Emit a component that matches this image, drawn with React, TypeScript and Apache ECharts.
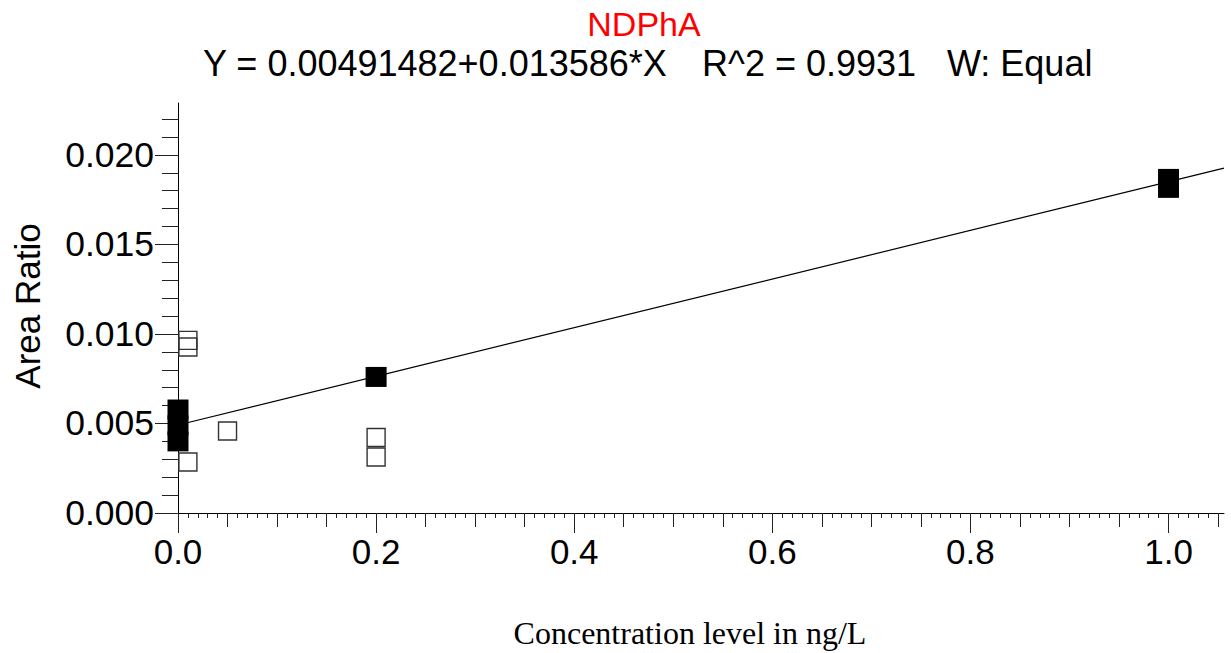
import React, { useEffect, useRef } from "react";
import * as echarts from "echarts";

// ---- data ----
const xTickLabels = [0, 0.2, 0.4, 0.6, 0.8, 1.0];
const xMidTicks = [0.05, 0.1, 0.15, 0.25, 0.3, 0.35, 0.45, 0.5, 0.55, 0.65, 0.7, 0.75, 0.85, 0.9, 0.95, 1.05];
const yTickLabels = [0, 0.005, 0.01, 0.015, 0.02];

// used calibration points (filled squares)
const usedX = [0, 0, 0, 0.2, 1.0, 1.0];
const usedY = [0.00578, 0.0049, 0.004, 0.0076, 0.01866, 0.01816];

// excluded points (open squares)
const excludedX = [0.01, 0.01, 0.01, 0.05, 0.2, 0.2];
const excludedY = [0.00964, 0.00927, 0.00285, 0.00458, 0.00422, 0.00313];

// regression line endpoints (Y = 0.00491482 + 0.013586*X)
const fitX = [0, 1.056];
const fitY = [0.00491482, 0.01926164];

const titleText = "NDPhA";
const eqText = "Y = 0.00491482+0.013586*X";
const r2Text = "R^2 = 0.9931";
const weightText = "W: Equal";
const xName = "Concentration level in ng/L";
const yName = "Area Ratio";

const SANS = '"Liberation Sans", Arial, sans-serif';
const SERIF = '"Liberation Serif", "Times New Roman", serif';

export default function App() {
  const ref = useRef<HTMLDivElement>(null);
  useEffect(() => {
    if (!ref.current) return;
    const chart = echarts.init(ref.current, undefined, { renderer: "svg" });
    const tickStyle = { color: "#222", width: 1 };
    const option: any = {
      animation: false,
      backgroundColor: "#fff",
      grid: { left: 178, top: 103, width: 1046, height: 410, containLabel: false },
      xAxis: [
        {
          type: "value",
          min: 0,
          max: 1.056,
          interval: 0.2,
          position: "bottom",
          axisLine: { show: true, lineStyle: { color: "#000", width: 1 } },
          axisTick: { show: true, customValues: xTickLabels, length: 20, lineStyle: tickStyle },
          minorTick: { show: true, splitNumber: 20, length: 5, lineStyle: tickStyle },
          axisLabel: {
            customValues: xTickLabels,
            formatter: (v: number) => v.toFixed(1),
            fontSize: 35,
            fontFamily: SANS,
            color: "#000",
            margin: 21,
          },
          splitLine: { show: false },
        },
        {
          type: "value",
          min: 0,
          max: 1.056,
          interval: 0.05,
          position: "bottom",
          axisLine: { show: false },
          axisTick: { show: true, customValues: xMidTicks, length: 14, lineStyle: tickStyle },
          axisLabel: { show: false },
          splitLine: { show: false },
        },
      ],
      yAxis: {
        type: "value",
        min: 0,
        max: 0.0229,
        interval: 0.005,
        axisLine: { show: true, lineStyle: { color: "#000", width: 1 } },
        axisTick: { show: true, customValues: yTickLabels, length: 23, lineStyle: tickStyle },
        minorTick: { show: true, splitNumber: 5, length: 16, lineStyle: tickStyle },
        axisLabel: {
          customValues: yTickLabels,
          formatter: (v: number) => v.toFixed(3),
          fontSize: 35.5,
          fontFamily: SANS,
          color: "#000",
          margin: 24,
        },
        splitLine: { show: false },
      },
      series: [
        {
          type: "line",
          data: fitX.map((x, i) => [x, fitY[i]]),
          symbol: "none",
          silent: true,
          lineStyle: { color: "#000", width: 1.2 },
          z: 1,
        },
        {
          type: "scatter",
          data: usedX.map((x, i) => [x, usedY[i]]),
          symbol: "rect",
          symbolSize: [21, 20],
          clip: false,
          silent: true,
          itemStyle: { color: "#000", opacity: 1 },
          z: 2,
        },
        {
          type: "scatter",
          data: excludedX.map((x, i) => [x, excludedY[i]]),
          symbol: "rect",
          symbolSize: [18, 18],
          clip: false,
          silent: true,
          itemStyle: { color: "rgba(0,0,0,0)", borderColor: "#333", borderWidth: 1.4, opacity: 1 },
          z: 3,
        },
      ],
      graphic: [
        {
          type: "text",
          x: 644,
          y: 24,
          style: { text: titleText, fill: "#ff0000", font: `34px ${SANS}`, textAlign: "center", textVerticalAlign: "middle" },
        },
        {
          type: "text",
          x: 203,
          y: 63,
          style: { text: eqText, fill: "#000", font: `36px ${SANS}`, textAlign: "left", textVerticalAlign: "middle" },
        },
        {
          type: "text",
          x: 702,
          y: 63,
          style: { text: r2Text, fill: "#000", font: `36px ${SANS}`, textAlign: "left", textVerticalAlign: "middle" },
        },
        {
          type: "text",
          x: 947,
          y: 63,
          style: { text: weightText, fill: "#000", font: `36px ${SANS}`, textAlign: "left", textVerticalAlign: "middle" },
        },
        {
          type: "text",
          x: 690,
          y: 633,
          style: { text: xName, fill: "#000", font: `32px ${SERIF}`, textAlign: "center", textVerticalAlign: "middle" },
        },
        {
          type: "text",
          x: 27,
          y: 306,
          rotation: Math.PI / 2,
          style: { text: yName, fill: "#000", font: `35px ${SANS}`, textAlign: "center", textVerticalAlign: "middle" },
        },
      ],
    };
    chart.setOption(option);
    return () => chart.dispose();
  }, []);
  return (
    <div
      ref={ref}
      style={{ position: "fixed", left: 0, top: 0, width: 1231, height: 653, background: "#fff" }}
    />
  );
}
